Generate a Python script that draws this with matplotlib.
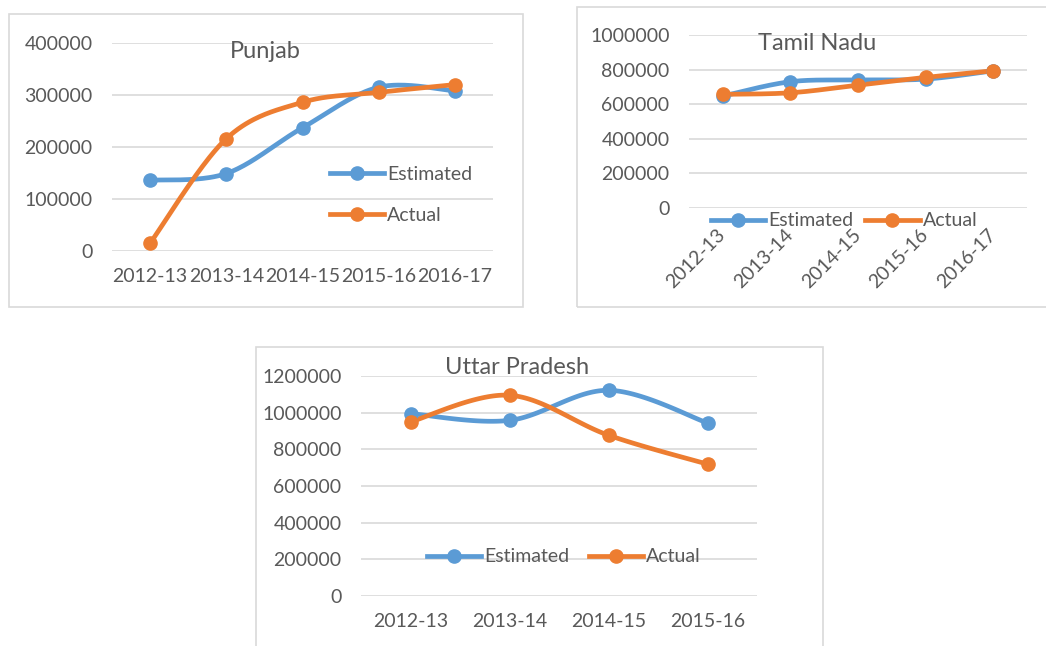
import matplotlib
matplotlib.use("Agg")
import matplotlib.pyplot as plt
import numpy as np
from matplotlib.lines import Line2D
from matplotlib.patches import Rectangle

# categories
years = ["2012-13", "2013-14", "2014-15", "2015-16", "2016-17"]
years_up = ["2012-13", "2013-14", "2014-15", "2015-16"]

# Punjab
punjab_est = [136000, 149000, 237000, 315000, 308000]
punjab_act = [15000, 216000, 286000, 305000, 320000]
# Tamil Nadu
tn_est = [647000, 730000, 740000, 745000, 793000]
tn_act = [657000, 666000, 710000, 755000, 793000]
# Uttar Pradesh
up_est = [995000, 958000, 1122000, 944000]
up_act = [950000, 1095000, 877000, 719000]

BLUE = "#5b9bd5"
ORANGE = "#ed7d31"
TXT = "#595959"
GRID = "#d9d9d9"
W, H = 1046, 646
FS = 14

plt.rcParams["font.family"] = ["Lato", "DejaVu Sans"]


def smooth(y, n=40):
    # excel-like smoothed line (catmull-rom as bezier)
    y = np.asarray(y, dtype=float)
    x = np.arange(len(y), dtype=float)
    p = np.column_stack([x, y])
    ext = np.vstack([p[0], p, p[-1]])
    t = np.linspace(0, 1, n)[:, None]
    segs = []
    for i in range(len(p) - 1):
        p0, p1, p2, p3 = ext[i], ext[i + 1], ext[i + 2], ext[i + 3]
        c1 = p1 + (p2 - p0) / 6
        c2 = p2 - (p3 - p1) / 6
        segs.append((1 - t) ** 3 * p1 + 3 * (1 - t) ** 2 * t * c1
                    + 3 * (1 - t) * t ** 2 * c2 + t ** 3 * p2)
    s = np.vstack(segs)
    return s[:, 0], s[:, 1]


def border(l, t, r, b):
    fig.patches.append(Rectangle((l / W, 1 - b / H), (r - l) / W, (b - t) / H,
                                 transform=fig.transFigure, fill=False,
                                 edgecolor=GRID, lw=1.2))


def panel(box, cats, est, act, ymax, step, title, txy, lxy, ncol,
          colspace, rot=False, lspace=1.0):
    l, t, r, b = box
    ax = fig.add_axes([l / W, 1 - b / H, (r - l) / W, (b - t) / H])
    ax.set_facecolor("none")
    for vals, c in [(est, BLUE), (act, ORANGE)]:
        sx, sy = smooth(vals)
        ax.plot(sx, sy, color=c, lw=3.4, solid_capstyle="round", zorder=3)
        ax.plot(range(len(vals)), vals, "o", color=c, ms=9.5, zorder=4)
    ax.set_xlim(-0.5, len(cats) - 0.5)
    ax.set_ylim(0, ymax)
    ticks = np.arange(0, ymax + 1, step)
    ax.set_yticks(ticks)
    ax.set_yticklabels([str(int(v)) for v in ticks])
    ax.set_xticks(range(len(cats)))
    if rot:
        ax.set_xticklabels(cats, rotation=45, ha="right", va="center",
                           rotation_mode="anchor")
        ax.tick_params(axis="x", pad=17)
    else:
        ax.set_xticklabels(cats)
        ax.tick_params(axis="x", pad=12)
    ax.tick_params(axis="y", pad=14)
    ax.tick_params(length=0, labelsize=FS, labelcolor=TXT)
    ax.grid(axis="y", color=GRID, lw=1.2)
    ax.set_axisbelow(True)
    for sp in ax.spines.values():
        sp.set_visible(False)
    fig.text(txy[0] / W, 1 - txy[1] / H, title, ha="center", va="center",
             fontsize=17, color=TXT)
    handles = [Line2D([], [], color=BLUE, lw=3.4, marker="o", ms=9.5),
               Line2D([], [], color=ORANGE, lw=3.4, marker="o", ms=9.5)]
    ax.legend(handles, ["Estimated", "Actual"], loc="center left",
              bbox_to_anchor=(lxy[0] / W, 1 - lxy[1] / H),
              bbox_transform=fig.transFigure, frameon=False, ncol=ncol,
              fontsize=FS, labelcolor=TXT, handlelength=2.8,
              handletextpad=0.15, columnspacing=colspace, borderpad=0,
              borderaxespad=0, labelspacing=lspace)
    return ax


fig = plt.figure(figsize=(W / 100, H / 100), dpi=100)

border(9, 14, 523, 307)
border(577, 7, 1050, 307)
border(256, 347, 823, 650)

panel((112, 43, 493, 251), years, punjab_est, punjab_act, 400000, 100000,
      "Punjab", (265, 52), (330, 195), 1, 1.0, lspace=1.25)
panel((689, 35, 1027, 208), years, tn_est, tn_act, 1000000, 200000,
      "Tamil Nadu", (817, 43), (711, 221), 2, 0.6, rot=True)
panel((361, 376, 757, 596), years_up, up_est, up_act, 1200000, 200000,
      "Uttar Pradesh", (517, 367), (427, 557), 2, 1.0)

fig.savefig("out.png", dpi=100)
